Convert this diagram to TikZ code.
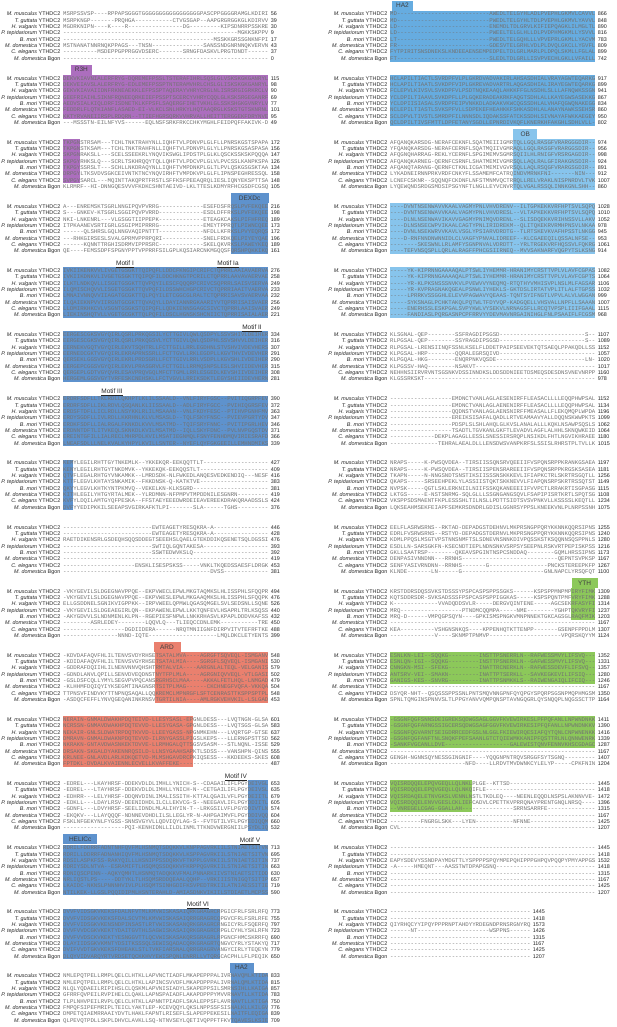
\documentclass[tikz,border=0pt]{standalone}
\usepackage{fontspec}
\setmainfont{Liberation Sans}
\newfontfamily\seqfont{Liberation Mono}[WordSpace=0,Ligatures=TeXOff]
\usetikzlibrary{positioning}

\definecolor{rthpurple}{RGB}{172,110,190}
\definecolor{helblue}{RGB}{94,146,205}
\definecolor{hatblue}{RGB}{102,172,224}
\definecolor{oblue}{RGB}{135,196,236}
\definecolor{ardred}{RGB}{234,128,110}
\definecolor{ythgreen}{RGB}{140,200,90}

\newcommand{\rowsep}{6.33}
\newcommand{\charw}{3.42}
\newcommand{\blocky}[1]{(14+(#1-1)*64.13)}
\newcommand{\dd}{----------}

\tikzset{
  spname/.style={anchor=base east, inner sep=0, text=black!85, font=\fontsize{5.4}{6}\selectfont},
  seq/.style={anchor=base west, inner sep=0, text=black!55, font=\seqfont\fontsize{5.7}{6}\selectfont},
  resnum/.style={inner sep=0, text=black!85, font=\fontsize{5.4}{6}\selectfont},
  domtab/.style={anchor=south west, inner sep=0, minimum height=10pt, text=black!75, font=\fontsize{6.5}{7}\selectfont},
  motif/.style={anchor=base, inner sep=0, text=black!85, font=\fontsize{6.5}{7}\selectfont},
}

% one block of the alignment: name, x of column 0, block number, rows
\newcommand{\alnblock}[4]{%
  \foreach \sq/\rn [count=\ri] in {#4}{%
    \node[seq] (#1-s\ri) at (#2, {\blocky{#3}+(\ri-1)*\rowsep+2}) {\sq};
    \node[resnum, right=2pt of #1-s\ri.base east, anchor=base west] (#1-e\ri) {\rn};
  }%
  \foreach \spc/\gn [count=\ri] in {M. musculus/YTHDC2, T. guttata/YTHDC2, H. vulgaris/YTHDC2,
      P. tepidariorum/YTHDC2, B. mori/YTHDC2, M. domestica/YTHDC2, C. elegans/YTHDC2, M. domestica/Bgon}
    \node[spname] (#1-n\ri) at ([xshift=-2.5pt]#1-s\ri.base west) {\textit{\spc} \gn};
}
% shaded domain: colour, x of column 0, block, first column, last column, last row
\newcommand{\domain}[6]{%
  \fill[#1] ({#2+#4*\charw}, {\blocky{#3}-3.2}) rectangle ({#2+(#5+1)*\charw}, {\blocky{#3}+(#6-1)*\rowsep+3.2});
}

\begin{document}
\begin{tikzpicture}[x=1pt, y=-1pt]
\useasboundingbox (0,0) rectangle (617,1027);

% domains, left column
\domain{rthpurple}{63}{2}{0}{59}{7}
\domain{rthpurple}{63}{3}{0}{4}{7}
\domain{helblue}{63}{4}{49}{59}{8}
\domain{helblue}{63}{5}{0}{59}{8}
\domain{helblue}{63}{6}{0}{59}{8}
\domain{helblue}{63}{7}{0}{59}{8}
\domain{helblue}{63}{8}{0}{2}{8}
\domain{ardred}{63}{11}{27}{59}{8}
\domain{ardred}{63}{12}{0}{37}{8}
\domain{helblue}{63}{13}{54}{59}{8}
\domain{helblue}{63}{14}{0}{59}{8}
\domain{helblue}{63}{15}{0}{45}{8}
\domain{helblue}{63}{16}{49}{59}{8}
% domains, right column
\domain{hatblue}{390}{1}{0}{59}{8}
\domain{hatblue}{390}{2}{0}{59}{8}
\domain{oblue}{390}{3}{36}{59}{8}
\domain{oblue}{390}{4}{0}{59}{8}
\domain{oblue}{390}{5}{0}{59}{8}
\domain{ythgreen}{390}{10}{53}{59}{5}
\domain{ythgreen}{390}{11}{0}{59}{5}
\domain{ythgreen}{390}{12}{0}{59}{5}
\domain{ythgreen}{390}{13}{0}{23}{5}

% domain tabs
\node[domtab, fill=rthpurple, minimum width=21pt] (tab-r3h) at (70.7, {\blocky{2}-3.2}) {R3H};
\node[domtab, fill=helblue, minimum width=38pt] (tab-dexdc) at (230.4, {\blocky{4}-3.2}) {DEXDc};
\node[domtab, fill=ardred, minimum width=27pt] (tab-ard) at (153.3, {\blocky{11}-3.2}) {ARD};
\node[domtab, fill=helblue, minimum width=34pt] (tab-helicc) at (63, {\blocky{14}-3.2}) {HELICc};
\node[domtab, fill=helblue, minimum width=24pt] (tab-ha2l) at (229.3, {\blocky{16}-3.2}) {HA2};
\node[domtab, fill=hatblue, minimum width=21pt] (tab-ha2r) at (391.7, {\blocky{1}-3.2}) {HA2};
\node[domtab, fill=oblue, minimum width=24pt] (tab-ob) at (513.1, {\blocky{3}-3.2}) {OB};
\node[domtab, fill=ythgreen, minimum width=26pt] (tab-yth) at (571.3, {\blocky{10}-3.2}) {YTH};

% helicase motifs
\node[motif] (mot-i) at (125, {\blocky{5}-5}) {\underline{Motif I}};
\node[motif] (mot-ia) at (228, {\blocky{5}-5}) {\underline{Motif Ia}};
\node[motif] (mot-ii) at (252, {\blocky{6}-5}) {\underline{Motif II}};
\node[motif] (mot-iii) at (112, {\blocky{7}-5}) {\underline{Motif III}};
\node[motif] (mot-iv) at (236, {\blocky{13}-5}) {\underline{Motif IV}};
\node[motif] (mot-v) at (250, {\blocky{14}-5}) {\underline{Motif V}};
\node[motif] (mot-vi) at (198, {\blocky{15}-5}) {\underline{Motif VI}};

% left column
\alnblock{L1}{63}{1}{
  MSRPSSVSP- ---RPPAPSG GGTGGGGGGG GGGGGGGGGG PASCPPGGGG RAMGLKDIRI/56,
  MSRPKNGP-- -----PRQHG A--------- --CTVGSGAP --AAPGRGRG GKGLKDIRVV/39,
  MGDRKNIPN- ---K----R- \dd -----DG--- ------KIPS DNRRPSSKRE/30,
  \dd \dd \dd \dd \dd -MGKKSKPPV/9,
  \dd \dd \dd \dd ----MSSKKG RSSGNKNFPI/17,
  MSTNANATNN RNQKPPAGS- --TNSN---- \dd -SANSSNDGN RNNQKVERVN/43,
  \dd MSDEPPGPPR GGVDSERC-- -----SRNGF DASKVLPRGT DNDT------/37,
  \dd \dd \dd \dd \dd \dd/0}
\alnblock{L2}{63}{2}{
  DEKVKIAVNI ALERFRYG-D QREMEFPSSL TSTERAFIHR LSQSLGLVSK SKGKGANRYL/115,
  DEKVEIAVSL ALERFRYG-E DLEMEFPSSP TNTERAMVHR LCHSLGLISK SKGKGANRYL/98,
  GEKVKIAVAI IDNFRKNEAE KKLEFPSSPT AQERAYVHRY CRGLNLISRS RGIGRKRCLV/90,
  GEEFRIAIHL SIKNFRQNEE QRKEIEFPSS PTSCERCYVH RYCQQLGLKS KSRGEGANRF/69,
  AEDVSIALKI QLDRFISDNE TKLKFPSFLS AQERGFIHET VKHLGLSSKS HGKGVNRYLV/77,
  FEDDRLFLQT KIANFLASAE D-EI-VLKCL SNLHRKYLHQ TAAQRGLKSK STGTSKNRNL/101,
  KKTYRVANEI IRSPLRDQRN --TTIEFHGR SQRKVVHRVA LLHEITTERG GEKFDRYNVE/95,
  ---MSSSTN- EILNFYVS-- ----EQLNSF SRKFRKCCHK YMGHLFEIDP QFFAKIVK-D/49}
\alnblock{L3}{63}{3}{
  TKPGNSTRSA M---TCHLTN KTRAHYNLLI QHFTVLPDNV PLGLFLLPNR SKGSTSPAPA/172,
  TKPGNSTKSA M---TCHLTN KTRAHFNLLI QHFTVLPDNV PLGLYLLPNR SKGSASPASA/156,
  SKPGNRAKSL L---SCELSS EEKRLYNQVI KSWGLIPDST PLGLKLQSCK SSKSKPQQQA/147,
  SKPGYRHKSL Q---SCRLTS KHRQQYTQLL QHFTVLPDCV PLGLVLPVCS SLKANPKSPA/126,
  TKPGYSSRSL T---SCHLLN KDRAQYNLLI QHFTVMPDNK PLGLTLPVLQ SKGSGSKTAA/134,
  DRPGYLTKSV DVSGKCEIVN TKTNCYNQVI RHFTVMPDKV PLGLFLIPNS PEGHRESSQL/158,
  SVPGYSARCL ---MQINTTA KQPRTFRSTL SFFKSFPEEA QRQLIESLIQ NYEKSPTTSA/148,
  KLRMRF--HI -DNNGQESVV VFKDKCSHNT AEIVD-LKLT TESLKDMYRF HCGSDFCGSQ/105}
\alnblock{L4}{63}{4}{
  A---ENREMS KTSGRLNNGI PQVPVRRG-- \dd -ESEFDSFRQ SLPVFEKQEE/216,
  S---GNKEV- KTSGRLSGGI PQVPVRRD-- \dd -ESDLDFFRK SLPVFEKQEE/198,
  NKI-LNKENR L---VLGSGG TIIPPEPK-- \dd -ETEAGKCAK SLPIFHFREQ/189,
  ITPKAANEVS RTIGRLGSGI PMIPRRRG-- \dd -EMEYTPPRQ TLPIWNCQEE/173,
  ------QLSH RSLGQLNNGV AQIPNTTT-- \dd -NFDLLKFRK SLPVYEQRQS/172,
  ---RHKGIRS ESLSVALGPR MVPPRPQRI- \dd -SNELFRDKQ ELPIYEYQAE/196,
  ------KQNN TTRGHISDRM VIPPRSRC-- \dd -SKELQKVRK SLPAWEYKEQ/189,
  QE----FEMS SDPFSPGNYP PTVPPRRFSI LGPLKQSIAR CNKMGQQSFQ RSHPQKKIKQ/161}
\alnblock{L5}{63}{5}{
  IVKIIKENKV VLIVGETGSG KTTQIPQFLL DDCFKNGIPC RIFCTQPRRL AAIAVAERVA/276,
  IVKIIKDNKV LIVGETGSGK TTQIPQFILD DCHKNGTPCR ILCTQPRRLA AVAVAERVAE/258,
  ILKTLNDKQV LLISGETGSG KTTQVPQYIL ESCFQQQRPC RIVCSQPRRL SAISVSERVA/249,
  ILQMISCHQV VLISGETGSG KTTQVPQFIL DSSWHCHGPC RIVCTQPRRI AAITVAERVA/233,
  LMNAIVNNQV VIIAGATGCG KTTQLPQYIL ETCGGCGLRA LTCTQPRRIS AVSVAERVAA/232,
  ILQAIEKNPV VIIRGNTGCG KTTQVAQYLL DAYIANNRGK AARIYVTQPR RISAISVAER/256,
  LLDMIRKHKC VLVSGNTGSG KSTQIPQFLL QDKIENNSGA GCSIVCTQPR RLAAISVAER/249,
  LIEKINSHQT VLLVGETGCG KTTQLPQFIL DSCLHGNSKS HCNIICTQPR RISAIALAER/221}
\alnblock{L6}{63}{6}{
  EERGESCGKS VGYQIRLQSR LPRKQGSILY CTTGIVLQWL QSDPYLSSVS HIVLDEIHER/334,
  EERGESCGKS VGYQIRLQSR LPRKQGSVLY CTTGIVLQWL QSDPHLSSVS HVVLDEIHER/316,
  EERNEKVGQT VGYQIRLEKV TSQHTRLLFC TTGILLRRLE GDHNLSTVSH VIVDEVHERS/307,
  EERNEDCGKT VGYQIRLEKR APRNSSRLLF CTTGVLLRKL EGDPLLKGVT HVIVDEVHER/291,
  QERSEKLGGS VGYQIRLEKR LPRDSGRLLF CTTGIVLRRL VSDPLLKGVS HLIVDEIHER/290,
  EERGEPCGGS VGYQIRLEKV LPRASGRVLF CTTGILLRRM QSNPSLESLS HVIIDEVHER/315,
  QERGEPLGDT VGYQVRLESA VPRQVGQLMF CTTGMLLRRL ESGEDLKEVS HIIVDEIHER/308,
  HERGEMLGGS VGYTVRFESK CNEHSKLLFC TVGVLLRRIK SDKTLEGYSH IIIDEVHERN/281}
\alnblock{L7}{63}{7}{
  ERDRFSDFLL TKLRDLLQKH PTLKLILSSA ALD--VNLFI RYFGSC--PV ITIQGRPFEV/390,
  ERDRFSDFLL IKLRDVLQSQ ANLKLIISSA ALD--ADLFI RYFGCC--PV IHIQGRSFEV/372,
  ERDSFTDFLL ICLRDLLNSY KKLRLILMSA AAN--VNLFK DYFESC--PT IHVPGNHFMV/363,
  ERDYSGDFLL IVLRDLLKKR HNLKLVLMSA SLD--TQLFS KYFNSC--PV IEVPGRTYDV/347,
  ERDKFSDFLL IALRGALFKN KDLKVVLMSA TMD--TQIFS RYFNNC--PV ITIPGRLHEV/346,
  ERDNNTDFTL ITVKEQLSKN KDLKVILMSA TMD--IQLLS KYFDNC--PV LNVPGQSTDV/371,
  EREINTGFIL LIALRECLMH RPDLKVILMS ATIEGNMQLF SNYFENHDMQ VIRIESRAFD/366,
  LNEAFSDLLL NELKVALKYH PYLKVILLSN TER--NYEFL QYFGKGEEIL LEMHNDMIKS/339}
\alnblock{L8}{63}{8}{
  KEMYLEGILR HTTGYTNKEM LK--YKKEKQ R-EEKQQTTL T--------- \dd/427,
  KENYLEGILR HTGYTNKDMV K--YKKEKQK -EEKQQSTLT \dd \dd/409,
  QTVFLEGALR HTGYVNKAMK K--LMRDSDK -NLFWKEDLA NQESVEDKEN DIQ---NESF/416,
  KTTFLEGVLK HTAYSNKAMI K--FKKDNSK -Q-KATKTVE \dd \dd/383,
  QKYYLEGVLK HTKYNTPKMV Q--VEKELKN -KLKSGRD-- \dd \dd/381,
  KITHLEGILY HTGYRTALME K--YLRDMNN -NFPMPVTMP DDNILESGNR N---------/419,
  KVFYLDQILA MTGYQFPESK A--FFSTAEY EEEDWRDEIE AVEREEKDRA KQRAADSSLS/424,
  DVFYYEDIPK KILSEEAPSV GIRKAFKTLP I-------SL A------TGH S---------/376}
\alnblock{L9}{63}{9}{
  \dd \dd ------EWTE AGETYRESQK RA-A------ \dd/446,
  \dd \dd ------EWTE AGETYRESQK RA-A------ \dd/428,
  RAETDIKENS RLGSDEQHSQ QSDDEGTSEE EHSLQAELGT EKDDIKQSEN ETSQLDGSSI/476,
  \dd \dd ------SWTI QLGQNTAKES A--------- \dd/393,
  \dd \dd ------SSWT EDWVKSLQ-- \dd \dd/392,
  \dd \dd \dd \dd \dd \dd/419,
  \dd \dd -ENSKLISES PSKSS----- VNKLTKQEDS SAESFLDRGK/453,
  \dd \dd \dd \dd ---DVSS--- \dd/381}
\alnblock{L10}{63}{10}{
  -VKYGEVILS LDGEGNAVPP QE--EKPVWE CLEPWLMKGT AQMKSLHLIS SPHLSFQQPR/494,
  -VKYGEVILS LDGEGNAVPP QE--EKPVWE SLEPWLMKGA AQMKSLHLIS SPHLSFQQPK/476,
  ELLGSDDNEL SGNIKVIGPP KK--IRPVWE ELQPMWLQGA SQMGELSVLS EDSNLLSQNE/526,
  -VKYGEVILS LDGEAEGIRL QN--EKPAWE NLEPWLLKKT QNFEVLHSAP RLTRLKSQSS/440,
  -AKYGDVVLS LNDNMENLKL PN--RGEPIE SFNPWLLNKK RHASVLKPAP LDDDVKAFSS/432,
  --------AS RLEDEY---- ----LQQVLQ ---TLIEQCC DNLEMK---- -------TRE/450,
  \dd --------DG DIIDERA--- ---NRQTMNI IGNFDIRPVI TVTEFRFTKE/488,
  \dd ------NNND -IQTE----- \dd -----LMQLD KCLETYENTS/399}
\alnblock{L11}{63}{11}{
  -KDVDAFAQV FHLILTENVS VDYRHSETSA TALMVA---- AGRGFTSQVE QL-ISMGANV/548,
  -KDIDAFAQV FHLILTENVS VGYRHSETSA TALMIA---- SGRGFLSQVE QL-ISMGANI/530,
  -GDDRAFDQI IHLILNENVN NVQHSHTRMT ALVIA----A ARGNLALTEQ L-VELGANIS/579,
  -GDNDLANVL QPILLSENVD VEQDNSTNYT FPLMLA---- AGRGNIQVVE QL-VTLGASI/502,
  -GSLDSFCQL LYMYLSEGVP VPQCANSRGR HSCLMAA--- -AKKALFETL HQL-LNMGAD/479,
  -KLHHMFDQI QYIYKSEGMT INAGNSRTSI TPLMAG---- --CKCHNEGF VQFA-VKKQA/504,
  TTPNSVFIND VKYTTNPNQS AQALLQQKRE MCLMPNRGFL SFTCENRAST TKSPPSPTPL/548,
  -ASDQCFEFF LYNVQGEQAN INKRNSVTGR TILNIA---- AMLRGKVEHV KIL-LSLGAD/453}
\alnblock{L12}{63}{12}{
  NERAIN-GNM ALDWAKHPDQ TEIVD-LLES YSASL-EPGN LDESS---LV QTNGN-GLSA/601,
  NCRSSN-GNM AVDWAKHPDQ TEVVD-LLES YGASA-GPGN LDESS---LV QTSGS-GLSA/583,
  NEKAIR-GNL SLDWATRPDQ TKVVD-LLEE YGASS-NPGN MKEHN---LV QRTGP-GTSE/637,
  DMRAVN-GNM ALDWAKNPDQ TEVVD-ILRN YGASSLPIGS LKEPS---LL ERNGPSTTSD/562,
  NKRAKN-GNT AVDWASNKEK TDVVE-LLRM HGALQTTSGS VSASM---ST LNQNL-ISSE/529,
  DRSAKN-SKG ALDYAKENNR QSILD-LLNS YGAAHSAPKT LSDSS---VA NSHPN-QINS/555,
  KRLNEE-GNL AVDLARLKDK QETVD-MLMS HGAVDRCPKI QSESS---KK DEEKS-SKES/608,
  FPTDKL-DVD ALKVAIENNL ECVELLKVAF FEKE------ \dd \dd/487}
\alnblock{L13}{63}{13}{
  -EDREL---L KAYHRSF-DD EKVDLDLIMH LLYNICH-S- -CDAGAILIF LPGYDEIVGL/653,
  -EDREL---L TAYHRSF-DD EKVDLDLIMH LLYNICH-N- -CETGAILIF LPGYDEIVSL/635,
  -EDHRR---L ELYHRSF-DD QNVDINLIMA LISSITH-KT TALQGAILVF LPGYDEIITL/679,
  -EDKLL---L DAYLRSV-DE ENIDHDLILC LLEKVCG-S- -NEEGAVLIF LPGYDDIITL/605,
  -GDNFL---L DVYHRSF-SE ELIDNDLMLA LIHYIN-T-- LRKGSILVFL PGYDDIVTLN/574,
  -EKQKV---L LAYQQQF-ND NNEVDHDLIL SLLEGLYR-N -AHPGAIMVF LPGYDDIVQQ/604,
  FSKLNFGEKY NLFYGSS-SN NSVGYVLLQD VIQYLAG-S- -FVTGTILVF LPGYEDIQQM/660,
  \dd --------PQ I-KENHIDNL LILDLINMLT TKNDVWERGN IILPSYDLIQ/532}
\alnblock{L14}{63}{14}{
  RDRILFDDRR FADNTNHFQV FMLHSNMQTS DQKKVLKNPP AGVRKIILST NIAETSITVN/713,
  RDRILLDDRR FADNANHIQV FMLHSNMQTS DQKKVLKSPP AGVRKIILST NIAETSITVN/695,
  RDSILASPKF SS-RAKYQIL LLHSNIPPSS DQRKVFTKPP LGVRKIILST NIAETSITIN/737,
  RDRIYSDLNT VA--ESRAMI FTLHSQMQSS DQKKVFKRPP QGVRKIILST NIAETSITIN/663,
  RDNIQSCPEN N--AQKYQMH TLHSNMQTAD QKKVFMALPN NARKIIVSTN IAETSITIDD/630,
  NRLIQSTLPS -----DDTYK LTLHSQMSRD DQEAALQQHP --VRKIIIST NIGQTSITIP/657,
  LKAIDC-NKN SLPNNNHVIV LPLHSQMTSI NHGDIFKSVP EDTRKIILAT NIAESSITIE/719,
  NTILKEK-LL GSLPQQIDIP MLHSNTERAH LD-AMIASDN KVIKIILSTD IAETLMCPSS/590}
\alnblock{L15}{63}{15}{
  DVVFVIDSGK VKEKSFDALN FVTMLKMVWI SKASAIQRKG RAGRCRPGIC FRLFSRLRFQ/773,
  DVVFVIDSGK VKEKSFDALS CVTMLKMVWI SKASAIQRRG RAGRCQPGVC FRLFSRLRFE/755,
  DVVFVIDSGK VKENSNDPIN SASTLRTVWI SKASANQRKG RAGRCRNGIC YRLFSQERFQ/797,
  DVVFVVDCGK VKEKTYDAIT GVTHLSAGWI SKASAIQRKG RAGRCRPGLC YHLYSKLRFN/723,
  DVVFVVDSCK VKEKTYESNG GVTTLQCVWI SKASAKQRSG RAGRLRPGNC FHMCSKRRFQ/690,
  DLAYIIDSGK VKMNTYDSIT KSSSQLSEWI SQADACQRKG RAGRTQNGVC YRLYSTAKYQ/717,
  DVIFVVDTGK VKEKSFDHEA KLSTLTVKFI ARSNALQRRG RAGRVANGYC IRLYTEQEYN/779,
  DLQYVIDVAR QYRTVRDSET QCKKHVYEWI SPQNLENRRL LVTQRGCACP HLLFLPEQIK/650}
\alnblock{L16}{63}{16}{
  NMLEPQTPEL LRMPLQELCL HTKLLAPVNC TIADFLMKAP EPPPALIVRN AVQMLKTIDA/833,
  NMLEPQTPEL LRMPLQELCL HTKLLAPINC SVVDFLMKAP DPPPALIVRN ALQMLKTIDA/815,
  NLQLYQDAEI LRIPIHSLCL QSKMLAPVNI SIADYLSKAP EPPSILSMRN SIHLLKAIGA/857,
  GFRRFQVPEI LRVPIHELCL QAKLLAPNSP AIADFLAKAP DPPPYMVVRN AVTLLKTIDA/783,
  TLPLNHVPEI LRVPLQELCL HTKLLAPNNT PIADFLSKAL EPPSFLAVRN AVTLLKTIGA/750,
  FMPQFSIPEF MRIPLTEICL YAKTLEP-KC EVQQYLQKSL NPPSSFSISN ALKLLKILGV/776,
  DMPETQIAEM RRAAIYDVTL HAKLFAPNTL RISEFLSLAP EPPEKESILN AITFLEQIGA/839,
  QLPEVQTPDL LSKPLDHVCL AVKLLSQ-NT NVSEYLQETI VQPPFTFKVT QAVESLKSIE/709}

% right column
\alnblock{R1}{390}{1}{
  MD-------- \dd ---------A WEDLTELGYH LADLPVEPHL GKMVLCAVVL/866,
  MD-------- \dd ---------P WEDLTELGYH LTDLPVEPHL GKMVLYAVVL/848,
  LD-------- \dd ---------E NEMDLTDLGR VLKIFIEPQA GKLILMGLTL/890,
  LD-------- \dd ---------P WEELTELGLH LLDLPVDPHM GKMLLYSVVL/816,
  LT-------- \dd ---------P WEDLTELGQH LLLVPVEPRL GKMLLYACVM/783,
  FR-------- \dd ---------G DESVTELGRH LVDLPLDVQL GKCLLYGVFL/809,
  FYTPIRITSN SDNEKSLKND EEAENSEMPE DPELTDLGRL MARLPLDPQL SKMLLFGLAL/899,
  FT-------- \dd ---------S LEDLTDLGRL LISVPVECHL GKLLVFAILL/742}
\alnblock{R2}{390}{2}{
  HCLAPILTIA CTLSVRDPFV LPLGKRDVAD VAKIRLAHSA SDHIALVRAY AGWTEQARKG/917,
  HCLAPILTIA ATLSVKDPFV IPLGKREVAD VARTRLAQGA SDHIALIRAY EGWTEQARKG/899,
  FCLEPVLKIV SVLSVKDPFV LPSDTNQKEA AQLAHKKFFG LNSDHLSLLL AFNQWKSSGN/941,
  YCLDPILTIA AVLSVKDPFL LPLGQKERAD EAKRKFAQGT SDHLALLKAY EGWSASEKKG/867,
  YCLDPIISIA SALSVRDPFE IPVNKKDLAD KAKVKWCQGS SDHLALVHAF QGWQNAKEGG/834,
  NCLEPILTIA STLSVKSPFV LLSDPEKEFH EAHKKFSHKA SDHLALANAY NAWKSSEHSR/860,
  SCLDPVLTIV STLSMRDPFI LNNNSDLIQD AKSSFATCKS SDHLSIVNAY AFWKKAEGEY/950,
  QCLDPILTIV SFMTTLDPFE TANYSGDLLE PNRDIVKQFL KNERKHFAKG HLSDHLVLL-/802}
\alnblock{R3}{390}{3}{
  AFQANQKARS DG-NERAFCE KNFLSQATME IIIGMRTQLL GQLRASGFVR ARGGGDIR--/974,
  YFQANQKARS DG-NERAFCE RNFLSQATMQ IIVGMRAQLL GQLRASGFVR ARGGSDIR--/956,
  AFQGNQHARR AG-REKLYCE RNFLSPGIME MVSGMRSQII LHLRNIGFVR SRGAGDIR--/998,
  AFQANQKARN EG-QERNFCS RNFLSHATME MIVGMRSQLL AQLRALGFIR AKGNSDIR--/924,
  AFQANQTARA NG-QERNFCT KNLICGATME MIVGVRSQLL AQLRSQGFVR ARGSGDIR--/891,
  LYKADNEIRN NPRKVRDFCN KYFLSSAMEM FCATRQINDV MRNKFNI--- ----NIN---/912,
  LCNEFCSKNR --SQQNQFCK DNFLNFSTMN MVQCTRRQLL RELVRAKLNI SPNRDVLTVK/1007,
  LYQEWQNDSR DGSMDSIPSG YNFTLNGLLE YVCNVRTQLV GALRSSQLIN NKGNLSHH--/860}
\alnblock{R4}{390}{4}{
  ----DVNTNS ENWAVVKAAL VAGMYPNLVH VDRENV--IL TGPKEKKVRF HPTSVLSQPQ/1028,
  ----DVNTNS ENWAVVKAAL VAGMYPNLVH VDRESL--VL TAPKEKKVRF HPTSVLSQPQ/1010,
  ----DLNLNS ENWAVIKAVV GAGMYPNIMQ VDRENL--SL ISDQEKKVRI HNSSVLLAKV/1052,
  ----DLNSNS ECWPVIKAAL CAGTYPNLIR IDREKM--QL ITQKEKRVRM HPNSVLNKAA/978,
  ----DVNLNS EKWRVVKAVL VSGLYPSIAR VDRDTG--TL RTSKEVKVAF HPSSTLNKGG/945,
  ----D-RNFN NDNWNNIDLC LVAGFYPNVA LIDREEF--K LCGAEEQILQ SSALNFSE--/953,
  --------SK ESWNLLRLAM FYSGNPNVAL VDRDTT--YR LTRGEKVRFH QSSVLFQKRG/1061,
  ----TEFVNS QSPLLQRLAL RAGFFPHCGS IIRNEQ--MV VSAKNARFVQ GPYTSLKSNG/914}
\alnblock{R5}{390}{5}{
  -----YK-KI PRNNGAAAAQ ALPTSWLIYH EMMR-HRANI MYCRSTTVPL VLAVFCGPAS/1082,
  -----YK-KI PRNNGAAAAQ ALPTSWLIYH EMMR-HRANI MYCRSTTVPL VLAVFCGPTS/1064,
  -----YR-KL PKSNSSSNVK VLPVEWVVYN EQMQ-RTQTH YVMHISVPLN SLMLFAGSAR/1106,
  -----YR-KV PRAGNAKQGE ALPSNWLIYH EKLS-GKTDS LIRTATVPLI TLALFTGPSS/1032,
  -----LPRRK VSSGGHLELE VVPAGWAVYQ EAAS-TQNTS YIFNGTLVPV LALVLWGGAN/999,
  -----SYKSN AGLPCHKTAK QLPQTWLTFD YVQP-KADGQ ELLVHSVALL NPFLLSAAAN/1007,
  -----ENERH SSLESKPGAL SVPYKWLVYS EKVLNRNAGS FLLRCQTVPS PLIIIFGAAL/1115,
  -----FANDI ASLPQRGASN PCPFRRVYYD EVMAVNRGAI NIHGLFNLPS AAIFLFCGSM/968}
\alnblock{R6}{390}{6}{
  KLSGNAL-QE P--------S SFRAGDIPSG SD-------- \dd -------S--/1107,
  RLPGSAL-QE P--------S SYRAGDIPSG SD-------- \dd -------S--/1089,
  RLPGSAL-LR ENSIINQFSS NLKSELFLDD ETPAIPSEEV EKTQTSAEQL PPAKQDLLSS/1152,
  KLPGSAL-HR P--------Q QRALEGRSQI VD-------- \dd \dd/1057,
  KLPGQAL-HK G--------E NQRPNKVQSD E--------- \dd -------LN-/1020,
  KLPGSSV-HA Q--------N SAKVT----- \dd \dd \dd/1017,
  NEHHNSIIRV RVNTSGSNKV DSSINNDKSL DDSDDNIEET DSMEQSDESD NSVNEVNRPP/1160,
  KLGSSRKSKT \dd \dd \dd \dd \dd/978}
\alnblock{R7}{390}{7}{
  \dd --------EM DNCTVANLAG LAESENIRFF LEASACLLLL EQQPHWPSAL/1152,
  \dd --------EM DNCTVANLAG LAENENIRFF LEASACLLLL EQQPHWPSAL/1134,
  \dd --------QQ DNSTVANLAG LAENSNIRFF MEASALLFLE KQMQPLWPDA/1196,
  \dd --------ER EIKSISAFAL QADLLRTVEA MAAVYALLDQ QNSKWWPKTS/1099,
  \dd --------PD SPLSLSHLAH QLGLKVSLAN ALALLLKQKL NSAWPSQSLS/1062,
  \dd --------TS ADTLTGVKAN LGKFTLEVAD VLAGFLALHH LSKNQWKEID/1064,
  \dd ---DEKPLAG AGLLESSLSN ESSIRSRQPL NSIKDLFHTL NGVIKHRAEE/1180,
  \dd ----TEHRAL AEALDLLLEN SDWSVANPKR FSLSSISLRH RSTPLTVLLK/1015}
\alnblock{R8}{390}{8}{
  NRAPS----- K-PWSQVDEA --TIRSIISS QNSRVQEEII FVSPQNSRPP KRANKGSAEA/1197,
  NRAPS----- K-PWSQVDEA --TIRSIISP ENSRAREEII FVSPQNSRPP KRGSKSASEA/1181,
  TKAPN----- N-NNGSNDTS NSTIKSIISS SNSKKKEVLI FIAPKCTRLS KRTRSGQTLL/1256,
  QKAPS----- SRSEEHPEKL YLASSIISTQ KTSKKNEVVL FIAPQNSRPS KRTRSSQTST/1149,
  NVPSK----- QGTLSKLERK NIILNIIFSS KQKANEEEII FVVPCTLRRA KRTISGPASG/1115,
  LKTGS----- E-NSTSNRMG -SQLGLLLSS GNGANGSQVL FSAPIPISRT KRTLSPQTSG/1108,
  VKSPPSDSMA ENTFKPLESS SHLTILNSLL PDTTSIDTSV SVPNKVLLKS SSSLKEQTLL/1234,
  LQKSEAHMSE KFEIAPFSEM KRSDNDRLGD ISLGGNRSYP PSLKNEEKVN LPLNRPSSNH/1075}
\alnblock{R9}{390}{9}{
  EELFLASRWS RNS--RKTAD -DEPADGSTD EHNVLMKPRS NGPPQRYKKN NKQQRSIPNS/1255,
  EDRLFVSRWS RNS--RSTYD -DEPADGSTD ERNVLMKPRS NGPPQRYKKN NKQQRSIPNS/1240,
  KDMLPPQSLM SGTVPSTNNS NMFTSLSDNE VNSNNKDIVP QSSKSTKSQQ NNSQSPPNLS/1280,
  ESDLLN-SAR SGKFN-KSEC NDTIEPLNDN SNKVSRPSYS EEPNLRSKVR TPEPISKPSS/1216,
  GKLLSAATRS P--------Q KEAVSPGINT NSPCSNDDAQ --------GQ MLHRSSIPNS/1173,
  DENPASIVNN DNN---RRNH S--------- \dd ---------Q EPNTSVPKSP/1167,
  SENFYASIVR NDNN--RRNH S-------G- \dd ------PNCK STEREEPKFP/1267,
  KLNDE----- --LN------ G--------- \dd -----GNLNA PCLYRSQFQT/1100}
\alnblock{R10}{390}{10}{
  KRSTDDRSDQ SSVKSTDSSS YPSPCASPSP PSSGKS---- --KSPSPPMN PMPIRYFIMK/1309,
  KQTSDDRSDR -SVKSADSSS FPSPCASPSP PIGGKAS--- --KSPSPQNT PMFVRYFIMK/1288,
  K--------- ----VVADQD DSVLR----- DERGVQINTE NE-----AGC SEKRFASYFI/1314,
  MRQ------- \dd -PTNDMCQQM PA-----NME --------YG HPTQKVRYFI/1237,
  MRQ-D----- -VMPQGPSQY N----GPKIS MSPNGKVMNP NNEKTGKCAG SGLRAQFMIK/1203,
  \dd \dd \dd \dd \dd \dd/1167,
  KEA------- ---VSHGNSN KQS----KPP ENHQTKTTEN PP-------G SENPFPPDLM/1307,
  \dd ---V----S KNMPTPNMVP- \dd \dd VPQRSKQYYM/1124}
\alnblock{R11}{390}{11}{
  ESNLKN-LEI --SQQKG--- ------INST TPSNERRLN- -RAFWESSMV YLIFSVQ---/1352,
  ESNLQN-IGI --SQQKG--- ------INST TPSNERKLN- -GAFWESSMV YLIFSVQ---/1331,
  CNNGKN-MSI --SFEKG--- ------INAT TRCNERKLN- -RAFWESSDE VFLIFSVQ--/1357,
  ANTSRV-VEI --SMAKN--- ------INAT TPTSERKLL- -SAVKEGKEV ILIFSIQ---/1280,
  GANIGS-KES --SNVRG--- ------INAT TPSNMKKLS- -RAIWENGAI QLIFCIQ---/1246,
  \dd \dd \dd \dd \dd \dd/1167,
  DSYQR-NHT- -QSQSSSPPS SNLPNTSMQV NNGPNFQYQP GYSPQRPSGS NPMQPHMGSM/1350,
  SPNLTQMGIN SPNNVSLTLP PGYANVVQMP QNSPTAVNGQ GRLQYSNQQP LNQGSSCTTP/1164}
\alnblock{R12}{390}{12}{
  -GSGNFQGFS NNSDEIGREK SQDWGSAGLG GVFKVEWIRK ESLPFPQFAN LLNPWNDNKK/1411,
  -GSGNFQGFA RNGSSIGCER SQDWGSAGFG GVFKVEWIRK ESIPFQFANL LNPWNDNKKV/1390,
  -GSGNFQGVA RNTSEIGDRR CEDFGSLNLG GLFKIEWIRQ ESIAFQYTQN LCNPWNENKK/1416,
  -GSGNFQGFA NFTNLSNQKF PEFSAANLGT CTQIEWMKKA NIPFQSTTRL NLQNNWENRK/1339,
  -SANKFVGCA NLLDVE---- \dd -----GALEW ISTQNVFENN VKHSCGDAGC/1287,
  \dd \dd \dd \dd \dd \dd/1167,
  GENGH-NGNN SQYNESSGIN GNIF----YQ QGNPNTRQVS RGGFSYTSGN Q---------/1407,
  \dd \dd --NFD----L LRDVTMVDWN KCYLELYP-- ---CPKFNIN/1204}
\alnblock{R13}{390}{13}{
  VQISRDQQEL EPQVGEQLLQ LNKLPLGE-- KTTSD----- \dd \dd/1445,
  VQISRDQQEL EPQVGEQLLQ LNKQIFLE-- \dd \dd \dd/1418,
  VQISRDAQEL ETNVGKSLVE NNLNSTLTKD LEQ----NEE NLEQQDLNSP SLAKNNVVE-/1472,
  VQISRDQQEL ENVVGESLCK LIEFCADVLC PETTKVPRRQ NAYPRENTGN QLNRSQ----/1396,
  --VNREGELC GAG-GGALLA H--------- ------SRRN SARRFE---- \dd/1315,
  \dd \dd \dd \dd \dd \dd/1167,
  ---------F NGRGLSKK-- -LYEN----- ------NFNN E--------- \dd/1425,
  CVL------- \dd \dd \dd \dd \dd/1207}
\alnblock{R14}{390}{14}{
  \dd \dd \dd \dd \dd \dd/1445,
  \dd \dd \dd \dd \dd \dd/1418,
  EAPYSDEVYS SNDPAYMDGT TLYSPPPPSP QYMPEPQHIP PPGHPQVPQQ PYPMYAPPGS/1532,
  -A-----HME QNT---AASS TWTDPAPGSN Q--------- \dd \dd/1418,
  \dd \dd \dd \dd \dd \dd/1315,
  \dd \dd \dd \dd \dd \dd/1167,
  \dd \dd \dd \dd \dd \dd/1425,
  \dd \dd \dd \dd \dd \dd/1207}
\alnblock{R15}{390}{15}{
  \dd \dd \dd \dd -/1445,
  \dd \dd \dd \dd -/1418,
  QIYRHQCYYI PQYPPPRNPT AHDYYRDEGN DPRNSRGNYR Q/1573,
  ------NT-- \dd ---------W SPPNS----- -/1426,
  \dd \dd \dd \dd -/1315,
  \dd \dd \dd \dd -/1167,
  \dd \dd \dd \dd -/1425,
  \dd \dd \dd \dd -/1207}
\end{tikzpicture}
\end{document}
